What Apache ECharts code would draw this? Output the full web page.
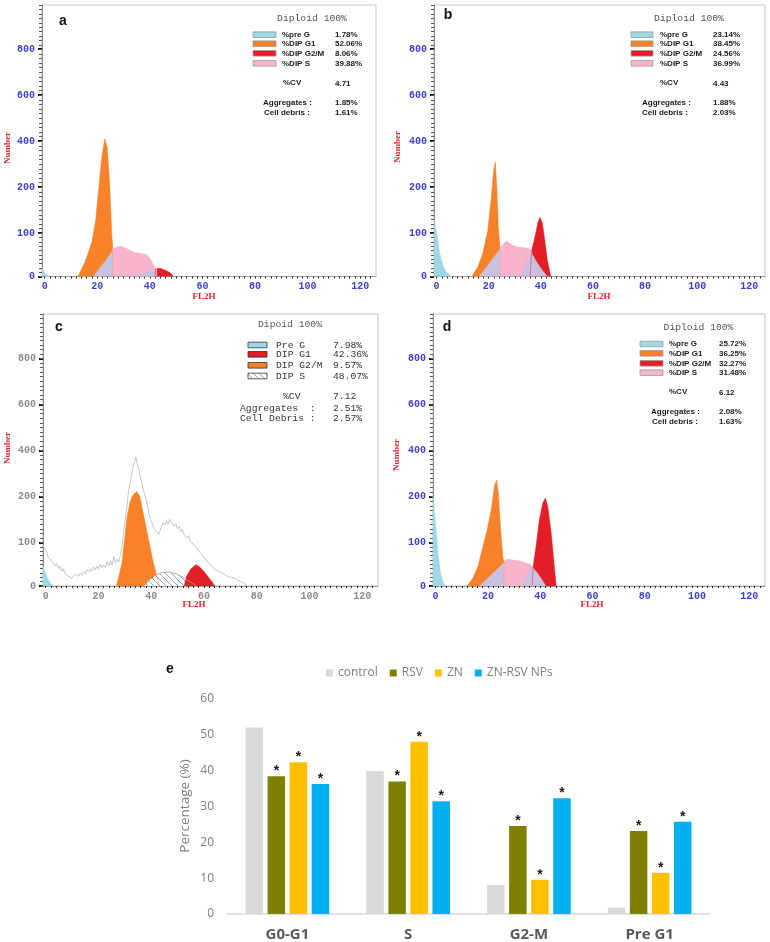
<!DOCTYPE html>
<html><head><meta charset="utf-8">
<script src="https://cdn.jsdelivr.net/npm/echarts@6/dist/echarts.min.js"></script>
<style>html,body{margin:0;padding:0;background:#fff}#c{width:770px;height:942px}</style>
</head><body><div id="c"></div>
<script>
// ---------- DATA ----------
const fl2hTicks = [0, 20, 40, 60, 80, 100, 120];
const numberTicks = [0, 100, 200, 400, 600, 800];
const numberTickPos = [0, 0.94, 1.94, 2.94, 3.94, 4.94];

// panel a  [FL2H, count]
const aPreG = [[-1,0],[-0.9,16],[0,8],[1,2],[1.8,0]];
const aG1 = [[12.7,0],[15.0,29],[16.5,53],[18.1,83],[19.4,128],[20.6,200],[21.9,346],[22.9,410],[23.8,374],[24.8,200],[25.5,99],[25.9,68],[25.9,0]];
const aSLeft = [[18.5,0],[26.0,59],[26.0,0]];
const aS = [[26.0,0],[26.0,64],[27.6,68],[29.1,70],[31.4,64],[33.9,56],[36.5,53],[38.8,51],[40.1,41],[41.3,28],[42.3,18],[42.3,0]];
const aG2 = [[41.9,0],[42.3,18],[43.8,19],[45.7,15],[47.6,9],[49.1,0]];
const aSRight = [[34.6,0],[42.6,19],[42.6,0]];
// panel b
const bPreG = [[-1,0],[-0.9,128],[0.2,95],[1.2,53],[2.4,26],[3.7,10],[5.6,0]];
const bG1 = [[13.5,0],[15.8,22],[17.7,53],[19.6,106],[20.9,172],[21.9,275],[22.5,310],[23.1,200],[23.7,113],[24.3,68],[24.4,0]];
const bSLeft = [[16.4,0],[24.4,64],[24.4,0]];
const bS = [[24.4,0],[24.4,66],[25.9,77],[26.9,82],[29.1,72],[31.0,68],[33.6,67],[35.5,64],[36.5,60],[36.5,0]];
const bG2 = [[35.9,0],[36.5,60],[38.0,99],[38.9,124],[39.7,135],[40.6,121],[41.5,84],[42.5,37],[43.8,0]];
const bSRight = [[32.3,0],[36.1,59],[38.0,37],[40.6,14],[42.5,0]];
// panel c
const cPreG = [[-1,0],[-1,45],[0.5,22],[1.5,8],[3,0]];
const cG1 = [[26.8,0],[27.6,18],[28.9,53],[29.9,106],[30.9,157],[31.9,186],[32.9,205],[34.5,222],[35.7,201],[36.7,172],[38.0,135],[39.3,99],[40.6,60],[41.9,29],[43.2,0]];
const cS = [[37.3,0],[39.3,14],[41.9,26],[44.4,31],[47.0,32],[49.5,28],[52.1,20],[54.6,10],[57.2,0]];
const cG2 = [[52.5,0],[53.4,22],[55.0,39],[56.9,49],[58.2,45],[60.1,33],[62.0,18],[64.2,0]];
const cRaw = [[-1,92],[-0.3,86],[0.4,78],[1.0,66],[1.6,70],[2.3,58],[2.9,54],[3.5,46],[4.1,52],[4.8,40],[5.4,46],[6.1,34],[6.7,40],[7.4,28],[8.0,32],[8.7,22],[9.3,26],[10.0,18],[10.6,23],[11.2,20],[11.9,27],[12.5,22],[13.1,30],[13.8,25],[14.4,33],[15.0,28],[15.6,37],[16.3,32],[16.9,40],[17.5,34],[18.2,44],[18.8,37],[19.5,46],[20.1,39],[20.7,50],[21.4,42],[22.0,49],[22.6,43],[23.3,56],[23.9,46],[24.6,58],[25.2,48],[25.8,68],[26.5,52],[27.1,62],[27.7,55],[28.4,72],[29.0,96],[29.6,125],[30.2,150],[30.9,182],[31.5,232],[32.1,262],[32.7,302],[33.3,336],[33.8,354],[34.2,372],[34.6,346],[35.1,332],[35.6,300],[36.2,272],[36.8,240],[37.4,216],[38.0,196],[38.6,180],[39.2,162],[39.8,150],[40.4,141],[41.0,131],[41.6,128],[42.2,124],[42.8,118],[43.4,127],[44.0,137],[44.6,143],[45.2,138],[45.8,149],[46.4,140],[47.0,151],[47.6,143],[48.2,147],[48.8,136],[49.4,141],[50.0,130],[50.6,135],[51.2,124],[51.8,129],[52.4,118],[53.0,121],[53.6,110],[54.2,115],[54.8,104],[55.4,107],[56.0,96],[56.6,99],[57.2,88],[57.8,87],[58.4,78],[59.0,81],[59.6,70],[60.2,67],[60.8,60],[61.4,63],[62.0,52],[62.6,49],[63.2,44],[63.8,47],[64.4,38],[65.0,41],[65.6,34],[66.2,37],[66.8,30],[67.4,33],[68.0,26],[68.6,29],[69.2,22],[69.8,25],[70.4,20],[71.0,23],[71.6,18],[72.2,21],[72.8,14],[73.4,17],[74.0,10],[74.6,13],[75.2,6],[75.8,4],[76.5,0]];
// panel d
const dPreG = [[-1,0],[-1,201],[-0.4,165],[0.3,121],[0.9,76],[1.9,29],[2.8,10],[3.7,0]];
const dG1 = [[12.1,0],[14.2,18],[16.2,45],[18.1,91],[20.0,135],[21.3,172],[22.5,245],[23.3,272],[24.0,216],[24.8,135],[25.7,68],[26.1,56],[26.1,0]];
const dSLeft = [[16.8,0],[26.1,53],[26.1,0]];
const dS = [[26.1,0],[26.1,56],[27.3,62],[29.5,60],[32.0,58],[33.9,54],[35.9,51],[37.1,45],[37.1,0]];
const dG2 = [[36.9,0],[37.3,45],[38.4,91],[39.7,150],[41.0,186],[42.0,197],[42.9,179],[44.2,121],[45.2,60],[46.1,0]];
const dSRight = [[33.3,0],[36.5,47],[39.1,29],[42.2,0]];

// info boxes
const aTitle = 'Diploid 100%';
const aRows = [['%pre G','1.78%'],['%DIP G1','52.06%'],['%DIP G2/M','8.06%'],['%DIP S','39.88%']];
const aStats = [['%CV','4.71'],['Aggregates :','1.85%'],['Cell debris :','1.61%']];
const bTitle = 'Diploid 100%';
const bRows = [['%pre G','23.14%'],['%DIP G1','38.45%'],['%DIP G2/M','24.56%'],['%DIP S','36.99%']];
const bStats = [['%CV','4.43'],['Aggregates :','1.88%'],['Cell debris :','2.03%']];
const cTitle = 'Dipoid 100%';
const cRows = [['Pre G','7.98%'],['DIP G1','42.36%'],['DIP G2/M','9.57%'],['DIP S','48.07%']];
const cStats = [['%CV','7.12'],['Aggregates  :','2.51%'],['Cell Debris :','2.57%']];
const dTitle = 'Diploid 100%';
const dRows = [['%pre G','25.72%'],['%DIP G1','36.25%'],['%DIP G2/M','32.27%'],['%DIP S','31.48%']];
const dStats = [['%CV','6.12'],['Aggregates :','2.08%'],['Cell debris :','1.63%']];

// bar chart e
const phases = ['G0-G1', 'S', 'G2-M', 'Pre G1'];
const groupNames = ['control', 'RSV', 'ZN', 'ZN-RSV NPs'];
const controlPct = [52.06, 39.88, 8.06, 1.78];
const rsvPct = [38.45, 36.99, 24.56, 23.14];
const znPct = [42.36, 48.07, 9.57, 11.5];
const npsPct = [36.25, 31.48, 32.27, 25.72];
const pctTicks = [0, 10, 20, 30, 40, 50, 60];

// ---------- STYLE ----------
const CYAN='#9fd8e5', ORANGE='#f7822a', RED='#e31e26', PINK='#f8b4cd', LAV='#c9c1e1';
const MONO="'Liberation Mono','DejaVu Sans Mono',monospace";
const SANS="'Liberation Sans',Arial,sans-serif";
const SERIF="'Liberation Serif','DejaVu Serif',serif";

function T(c){
  const v=numberTicks,p=numberTickPos;
  for(let k=0;k<v.length-1;k++){ if(c<=v[k+1]) return p[k]+(c-v[k])/(v[k+1]-v[k])*(p[k+1]-p[k]); }
  const k=v.length-2; return p[k+1]+(c-v[k+1])/(v[k+1]-v[k])*(p[k+1]-p[k]);
}
const minorPos=[];
for(let k=0;k<numberTickPos.length-1;k++){ for(let j=0;j<10;j++) minorPos.push(numberTickPos[k]+(numberTickPos[k+1]-numberTickPos[k])*j/10); }
for(let t=4.94;t<=5.9;t+=0.0955) minorPos.push(t);
const xMinor=[]; for(let x=0;x<=125;x+=2) xMinor.push(x);

// hatch pattern
const hatch=document.createElement('canvas'); hatch.width=6; hatch.height=6;
(function(){const g=hatch.getContext('2d');g.fillStyle='#fff';g.fillRect(0,0,6,6);g.strokeStyle='#7f9dc9';g.lineWidth=0.9;g.beginPath();g.moveTo(-1,-1);g.lineTo(7,7);g.moveTo(-4,2);g.lineTo(4,10);g.moveTo(2,-4);g.lineTo(10,4);g.stroke();})();
const HATCH={image:hatch,repeat:'repeat'};

const panels=[
 {grid:{left:42,top:5,width:334,height:271.5},lbl:'#3f3fd4',
  layers:[[aPreG,CYAN],[aG1,ORANGE],[aSLeft,LAV],[aS,PINK],[aG2,RED],[aSRight,LAV]]},
 {grid:{left:434,top:5,width:331,height:271.5},lbl:'#3f3fd4',
  layers:[[bPreG,CYAN],[bG1,ORANGE],[bSLeft,LAV],[bS,PINK],[bG2,RED],[bSRight,LAV]]},
 {grid:{left:43,top:314,width:335,height:272},lbl:'#8c8c8c',
  layers:[[cPreG,CYAN],[cG1,ORANGE],[cS,'hatch'],[cG2,RED],[cRaw,'raw']]},
 {grid:{left:433,top:314,width:332,height:272},lbl:'#3f3fd4',
  layers:[[dPreG,CYAN],[dG1,ORANGE],[dSLeft,LAV],[dS,PINK],[dG2,RED],[dSRight,LAV]]}
];

const grids=[],xAxes=[],yAxes=[],series=[],graphics=[];
panels.forEach((p,i)=>{
  grids.push(Object.assign({show:true,borderColor:'#c6c6c6',borderWidth:1,backgroundColor:'transparent'},p.grid));
  xAxes.push({gridIndex:i,type:'value',min:-1,max:126,position:'bottom',
    axisLine:{show:true,onZero:false,lineStyle:{color:'#9a9a9a'}},
    axisTick:{show:true,customValues:xMinor,length:2,lineStyle:{color:'#222'}},
    axisLabel:{customValues:fl2hTicks,color:p.lbl,fontFamily:MONO,fontWeight:'bold',fontSize:10,margin:5},
    splitLine:{show:false}});
  yAxes.push({gridIndex:i,type:'value',min:0,max:5.9,position:'left',offset:0,
    axisLine:{show:true,onZero:false,lineStyle:{color:'#8a8a8a'}},
    axisTick:{show:true,customValues:numberTickPos,length:4,lineStyle:{color:'#111',width:2}},
    axisLabel:{customValues:numberTickPos,color:p.lbl,fontFamily:MONO,fontWeight:'bold',fontSize:10,margin:7,
      formatter:v=>{const k=numberTickPos.findIndex(q=>Math.abs(q-v)<1e-6);return k>=0?String(numberTicks[k]):'';}},
    splitLine:{show:false}});
  yAxes.push({gridIndex:i,type:'value',min:0,max:5.9,position:'left',offset:0,
    axisLine:{show:false,onZero:false},
    axisTick:{show:true,customValues:minorPos,length:3,lineStyle:{color:'#555',width:1}},
    axisLabel:{show:false},splitLine:{show:false}});
  p.layers.forEach(([pts,col])=>{
    const s={type:'line',xAxisIndex:i,yAxisIndex:2*i,data:pts.map(([x,c])=>[x,T(c)]),
      symbol:'none',silent:true,animation:false,smooth:false};
    if(col==='raw'){ s.lineStyle={color:'#c6c6c6',width:1}; }
    else if(col==='hatch'){ s.lineStyle={color:'#a0a0a0',width:0.8}; s.areaStyle={color:HATCH,opacity:1}; }
    else { s.lineStyle={color:col,width:0.5}; s.areaStyle={color:col,opacity:1}; }
    series.push(s);
  });
});

// bar chart grid
grids.push({left:227,top:699,width:483,height:215.3});
xAxes.push({gridIndex:4,type:'category',data:phases,
  axisLine:{lineStyle:{color:'#d9d9d9',width:1.5}},axisTick:{show:false},
  axisLabel:{color:'#595959',fontWeight:'bold',fontSize:15,fontFamily:"'Open Sans',sans-serif",margin:13}});
yAxes.push({gridIndex:4,type:'value',min:0,max:60,interval:10,
  axisLine:{show:false},axisTick:{show:false},splitLine:{show:false},
  axisLabel:{color:'#7f7f7f',fontSize:12,fontFamily:"'Open Sans',sans-serif",margin:13,
    customValues:pctTicks}});
const barCols=['#d9d9d9','#808000','#ffc000','#00b0f0'];
[controlPct,rsvPct,znPct,npsPct].forEach((d,k)=>{
  series.push({type:'bar',name:groupNames[k],xAxisIndex:4,yAxisIndex:8,data:d,
    barWidth:17.5,barGap:'26%',itemStyle:{color:barCols[k]},animation:false,
    label:{show:k>0,position:'top',distance:-2,formatter:'*',color:'#1a1a1a',fontSize:14,fontWeight:'bold',fontFamily:SANS}});
});

// ---------- annotations ----------
function txt(x,y,text,font,fill,align){
  return {type:'text',x:x,y:y,silent:true,style:{text:text,font:font,fill:fill||'#222',
    align:align||'left',textAlign:align||'left',verticalAlign:'middle',textVerticalAlign:'middle'}};
}
function rect(x,y,w,h,fill,stroke){return {type:'rect',silent:true,shape:{x:x,y:y,width:w,height:h},style:{fill:fill,stroke:stroke,lineWidth:0.8}};}

const infoLayout=[
 {title:aTitle,rows:aRows,stats:aStats,tx:312,ty:18,sx:253,sw:23,ry:[34.7,43.7,53.3,63.3],lx:282,vx:335,
  st:[[283,83],[263,103],[264,113]],cols:[CYAN,ORANGE,RED,PINK],mono:false},
 {title:bTitle,rows:bRows,stats:bStats,tx:689,ty:18,sx:631,sw:22,ry:[34.7,43.7,53.3,63.3],lx:660,vx:713,
  st:[[660,83],[642,103],[642,113]],cols:[CYAN,ORANGE,RED,PINK],mono:false},
 {title:cTitle,rows:cRows,stats:cStats,tx:290,ty:324,sx:248,sw:19,ry:[345,354.3,365.3,376],lx:276,vx:333,
  st:[[283,396],[240,408],[240,418.5]],cols:[CYAN,RED,ORANGE,HATCH],mono:true},
 {title:dTitle,rows:dRows,stats:dStats,tx:698.5,ty:327,sx:640,sw:23,ry:[344,353.3,363.3,372.7],lx:669,vx:719,
  st:[[669,392],[651,412],[652,422]],cols:[CYAN,ORANGE,RED,PINK],mono:false}
];
infoLayout.forEach(L=>{
  graphics.push(txt(L.tx,L.ty,L.title,'9.7px '+MONO,'#555','center'));
  const f=L.mono?('9.7px '+MONO):('bold 8px '+SANS);
  const col=L.mono?'#333':'#1a1a1a';
  L.rows.forEach((r,k)=>{
    graphics.push(rect(L.sx,L.ry[k]-2.8,L.sw,5.6,L.cols[k],L.mono?'#333':'#9a9a9a'));
    graphics.push(txt(L.lx,L.ry[k],r[0],f,col));
    graphics.push(txt(L.vx,L.ry[k],r[1],f,col));
  });
  L.stats.forEach((s,k)=>{
    graphics.push(txt(L.st[k][0],L.st[k][1],s[0],f,col));
    graphics.push(txt(L.vx,L.st[k][1]+(k===0&&!L.mono?1:0),s[1],f,col));
  });
});
// panel letters
[['a',63,21],['b',448,15],['c',59,327],['d',447,327]].forEach(l=>graphics.push(txt(l[1],l[2],l[0],'bold 14px '+SANS,'#111','center')));
// axis names
[[8,148],[398,147],[8,448],[397,455]].forEach(p=>{
  const t=txt(p[0],p[1],'Number','bold 9px '+SERIF,'#e8202a','center'); t.rotation=Math.PI/2; graphics.push(t);
});
[[204,297],[599,297],[194,605],[592,605]].forEach(p=>graphics.push(txt(p[0],p[1],'FL2H','bold 9px '+SERIF,'#e8202a','center')));
// bar chart texts
graphics.push(txt(170,669,'e','bold 14px '+SANS,'#111','center'));
(function(){const t=txt(185,806,'Percentage (%)',"13.5px 'Open Sans',sans-serif",'#7f7f7f','center');t.rotation=Math.PI/2;graphics.push(t);})();

const chart=echarts.init(document.getElementById('c'),null,{renderer:'canvas'});
chart.setOption({
  animation:false,backgroundColor:'#fff',
  grid:grids,xAxis:xAxes,yAxis:yAxes,series:series,graphic:graphics,
  legend:{data:groupNames,left:326,top:667,padding:0,itemWidth:7,itemHeight:7,itemGap:12,icon:'rect',
    textStyle:{color:'#7f7f7f',fontSize:12,fontFamily:"'Open Sans',sans-serif"},selectedMode:false}
});
</script></body></html>
